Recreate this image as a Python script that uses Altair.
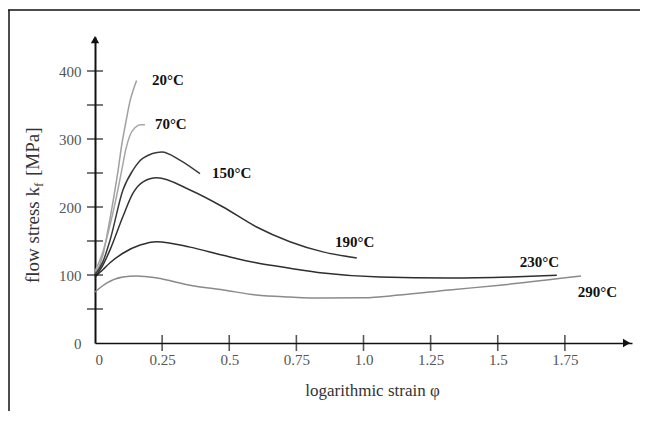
import altair as alt
import pandas as pd

# ---- data ----
strain_20 = [0.0, 0.03, 0.05, 0.07, 0.086, 0.099, 0.115, 0.13, 0.145, 0.155]
stress_20 = [100, 130, 170, 215, 254, 290, 325, 355, 375, 386]

strain_70 = [0.0, 0.03, 0.06, 0.085, 0.10, 0.115, 0.13, 0.15, 0.17, 0.186]
stress_70 = [105, 135, 180, 225, 255, 285, 305, 317, 321, 321]

strain_150 = [0.0, 0.03, 0.056, 0.104, 0.141, 0.179, 0.249, 0.316, 0.391]
stress_150 = [100, 120, 151, 225, 254, 272, 281, 269, 249]

strain_190 = [0.0, 0.03, 0.056, 0.104, 0.141, 0.179, 0.23, 0.354, 0.477, 0.60, 0.726, 0.849, 0.975]
stress_190 = [97, 115, 137, 186, 220, 237, 243, 225, 200, 171, 149, 134, 125]

strain_230 = [0.0, 0.03, 0.056, 0.104, 0.168, 0.23, 0.354, 0.477, 0.60, 0.726, 0.849, 1.06, 1.32, 1.55, 1.72]
stress_230 = [97, 108, 118, 132, 144, 149, 141, 129, 118, 110, 103, 97, 95.5, 97, 99.5]

strain_290 = [0.0, 0.043, 0.104, 0.155, 0.23, 0.354, 0.477, 0.60, 0.726, 0.849, 1.0, 1.135, 1.32, 1.508, 1.81]
stress_290 = [75, 88, 97, 98.5, 95.6, 85, 78, 70.6, 67.6, 66, 66.5, 70.6, 78, 85, 98.5]

series_names = ["20°C", "70°C", "150°C", "190°C", "230°C", "290°C"]
series_colors = ["#a0a0a0", "#a6a6a6", "#3a3a3a", "#333333", "#2e2e2e", "#8a8a8a"]
series_widths = [1.5, 1.5, 2.0, 2.0, 2.0, 1.8]

label_x = [0.212, 0.223, 0.436, 0.894, 1.582, 1.798]
label_y = [387, 322, 250, 148, 119, 75]

x_ticks = [0, 0.25, 0.5, 0.75, 1.0, 1.25, 1.5, 1.75]
y_label_ticks = [0, 100, 200, 300, 400]
y_minor_ticks = [50, 100, 150, 200, 250, 300, 350, 400]

x_max = 2.0
y_max = 450

y_title_parts = ["flow stress k", "f", "[MPa]"]

# ---- tables ----
curves = []
for name, xs_, ys_ in zip(series_names,
                          [strain_20, strain_70, strain_150, strain_190, strain_230, strain_290],
                          [stress_20, stress_70, stress_150, stress_190, stress_230, stress_290]):
    for i, (a, b) in enumerate(zip(xs_, ys_)):
        curves.append({"series": name, "strain": a, "stress": b, "order": i})
curves = pd.DataFrame(curves)

labels = pd.DataFrame({"series": series_names, "x": label_x, "y": label_y})

W, H = 537, 306
xs = alt.Scale(domain=[0, x_max], nice=False)
ys = alt.Scale(domain=[0, y_max], nice=False)

font = "Liberation Serif"

base = alt.Chart(curves)

lines = base.mark_line(interpolate="monotone").encode(
    x=alt.X("strain:Q", scale=xs,
            axis=alt.Axis(values=x_ticks, ticks=False, grid=False,
                          domainColor="#111", domainWidth=1.6,
                          labelExpr="datum.value == 1 ? '1.0' : '' + datum.value",
                          labelFont=font, labelFontSize=15, labelColor="#555",
                          labelPadding=9,
                          title="logarithmic strain φ", titleFont=font,
                          titleFontSize=17, titleFontWeight="normal",
                          titleColor="#333", titlePadding=15, titleX=277)),
    y=alt.Y("stress:Q", scale=ys,
            axis=alt.Axis(values=y_label_ticks, ticks=False, grid=False,
                          domainColor="#111", domainWidth=2,
                          labelFont=font, labelFontSize=15, labelColor="#555",
                          labelPadding=14, title=None)),
    color=alt.Color("series:N", scale=alt.Scale(domain=series_names, range=series_colors), legend=None),
    strokeWidth=alt.StrokeWidth("series:N", scale=alt.Scale(domain=series_names, range=series_widths), legend=None),
    detail="series:N",
    order="order:Q",
)

text = alt.Chart(labels).mark_text(font=font, fontSize=15, fontWeight="bold",
                                   align="left", baseline="middle", color="#111").encode(
    x=alt.X("x:Q", scale=xs), y=alt.Y("y:Q", scale=ys), text="series:N")

xt = alt.Chart(pd.DataFrame({"v": x_ticks[1:], "z": [0] * (len(x_ticks) - 1)})).mark_tick(
    orient="vertical", size=16, thickness=1.6, color="#111").encode(
    x=alt.X("v:Q", scale=xs), y=alt.Y("z:Q", scale=ys))

yt = alt.Chart(pd.DataFrame({"v": y_minor_ticks, "z": [0] * len(y_minor_ticks)})).mark_tick(
    orient="horizontal", size=16, thickness=1.6, color="#111").encode(
    y=alt.Y("v:Q", scale=ys), x=alt.X("z:Q", scale=xs))

arrows = pd.DataFrame({"x": [x_max - 0.02, 0], "y": [0, y_max - 4],
                       "shape": ["triangle-right", "triangle-up"]})
arr = alt.Chart(arrows).mark_point(filled=True, size=70, color="#111", opacity=1).encode(
    x=alt.X("x:Q", scale=xs), y=alt.Y("y:Q", scale=ys),
    shape=alt.Shape("shape:N", scale=None, legend=None))

# y-axis title with subscript, built from three rotated text pieces
one = pd.DataFrame({"a": [0]})
t_main = alt.Chart(one).mark_text(font=font, fontSize=19, color="#333", angle=270,
                                  align="right", baseline="alphabetic").encode(
    x=alt.value(-56), y=alt.value(150), text=alt.value(y_title_parts[0]))
t_sub = alt.Chart(one).mark_text(font=font, fontSize=13, color="#333", angle=270,
                                 align="left", baseline="alphabetic").encode(
    x=alt.value(-52), y=alt.value(150), text=alt.value(y_title_parts[1]))
t_end = alt.Chart(one).mark_text(font=font, fontSize=19, color="#333", angle=270,
                                 align="left", baseline="alphabetic").encode(
    x=alt.value(-56), y=alt.value(139), text=alt.value(y_title_parts[2]))

frame_top = alt.Chart(one).mark_rule(color="#111", strokeWidth=1.5).encode(
    x=alt.value(-87), x2=alt.value(W + 20), y=alt.value(-27))
frame_left = alt.Chart(one).mark_rule(color="#111", strokeWidth=1.5).encode(
    x=alt.value(-86), y=alt.value(-27), y2=alt.value(H + 80))

chart = alt.layer(frame_top, frame_left, lines, xt, yt, arr, text, t_main, t_sub, t_end).properties(
    width=W, height=H,
    autosize=alt.AutoSizeParams(type="none"),
    padding={"left": 87, "top": 29, "right": 8, "bottom": 68},
).configure_view(strokeWidth=0, stroke="transparent")

chart.save("out.html", embed_options={"renderer": "svg", "actions": False})
